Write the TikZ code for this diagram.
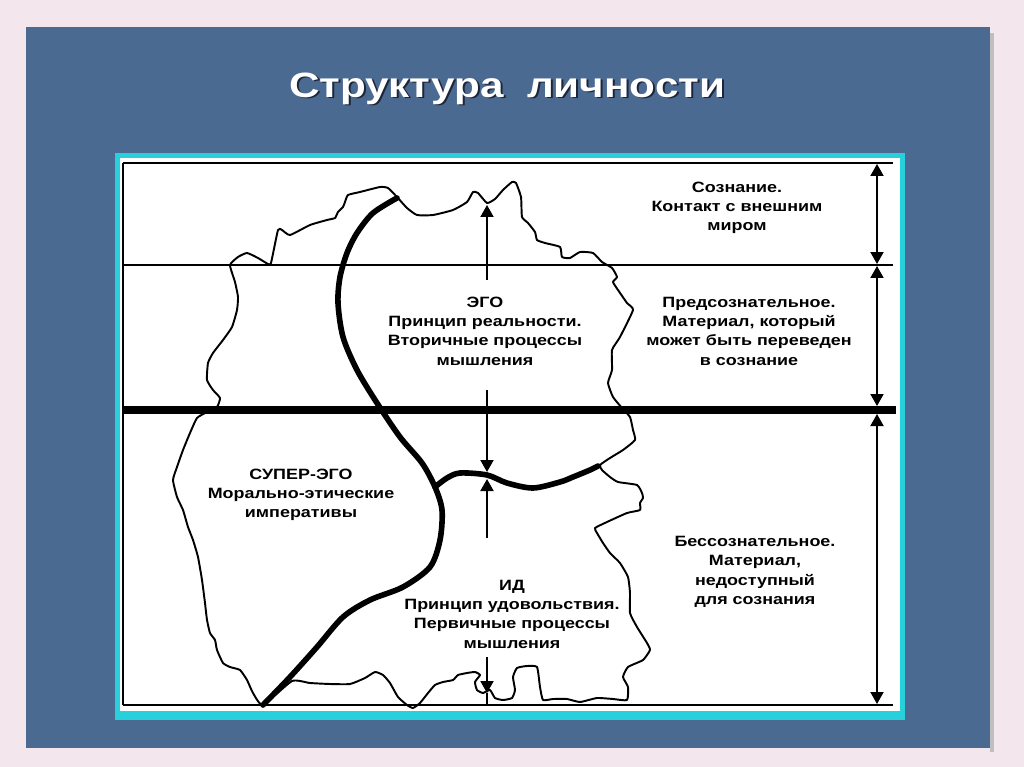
\documentclass[tikz,border=0pt]{standalone}
\usepackage{fontspec}
\setmainfont{Liberation Sans}
\newfontfamily\titlefont[FakeStretch=1.2]{Liberation Sans}
\newfontfamily\zonefont[FakeStretch=1.2]{Liberation Sans}
\usetikzlibrary{arrows.meta}
\definecolor{pagepink}{RGB}{243,230,237}
\definecolor{slideblue}{RGB}{74,106,146}
\definecolor{framecyan}{RGB}{40,208,220}
\definecolor{titleshade}{RGB}{28,38,58}
\tikzstyle{outline}=[line width=1.1pt, line join=round]
\tikzstyle{boundary}=[line width=3.2pt, line cap=round]
\tikzstyle{level}=[line width=0.85pt]
\tikzstyle{thicklevel}=[line width=4pt]
\tikzstyle{pointer}=[line width=1.1pt, -{Triangle[width=2.6mm,length=2.4mm]}]
\tikzstyle{span}=[line width=1.1pt, {Triangle[width=2.6mm,length=2.4mm]}-{Triangle[width=2.6mm,length=2.4mm]}]
\tikzstyle{zonetext}=[align=center, inner sep=0pt, font=\zonefont\bfseries\fontsize{8.5}{11}\selectfont]

\begin{document}
\begin{tikzpicture}[x=0.02cm, y=-0.02cm]
            \useasboundingbox (0,0) rectangle (1024,767);
            \fill[pagepink] (0,0) rectangle (1024,767);
            \fill[black!25] (990,33) rectangle (994,752);
            \fill[slideblue] (26,27) rectangle (990,748);

            \node[anchor=base, text=titleshade, font=\titlefont\bfseries\fontsize{20}{24}\selectfont]
                (titleshadow) at (509,99) {Структура\ \ личности};
            \node[anchor=base, text=white, font=\titlefont\bfseries\fontsize{20}{24}\selectfont]
                (title) at (507,97) {Структура\ \ личности};

            \fill[framecyan] (115,153) rectangle (905,720);
            \fill[white] (120,158) rectangle (900,711);

            \draw[level] (123,163) -- (893,163);
            \draw[level] (123,265) -- (893,265);
            \draw[thicklevel] (123,410) -- (896,410);
            \draw[level] (123,705) -- (893,705);
            \draw[level] (123,163) -- (123,705);

            \draw[span] (877,164) -- (877,264);
            \draw[span] (877,266) -- (877,406);
            \draw[span] (877,414) -- (877,704);

            \draw[outline] plot[smooth cycle, tension=0.3] coordinates {
                (263,705) (253,693) (247,680) (240,670) (230,667) (223,663) (217,650)
                (215,640) (210,633) (207,620) (205,603) (202,580) (198,557) (193,540)
                (188,527) (183,510) (177,497) (173,480) (177,467) (183,450) (190,433)
                (197,418) (207,412) (217,407) (220,398) (213,390) (207,380) (208,363)
                (213,353) (223,340) (232,327) (237,310) (238,297) (235,282) (230,265)
                (238,257) (247,253) (258,258) (268,264) (271,263) (278,230) (282,230)
                (290,235) (310,225) (327,220) (335,218) (338,212) (343,207) (345,202)
                (348,195) (360,192) (380,187) (388,188) (397,197) (407,208) (417,215)
                (433,215) (453,210) (467,202) (473,192) (478,193) (487,203) (495,199)
                (503,190) (512,182) (516,183) (521,197) (522,217) (528,223) (535,232)
                (537,240) (545,243) (560,247) (562,257) (570,258) (580,252) (593,253)
                (602,262) (612,268) (617,277) (613,282) (618,290) (627,303) (633,310)
                (620,337) (612,350) (612,370) (608,383) (613,397) (622,408) (630,417)
                (633,430) (635,440) (623,450) (610,458) (600,465) (602,470) (610,477)
                (618,482) (637,485) (642,493) (643,498) (640,503) (640,510) (627,513)
                (607,522) (595,528) (597,533) (603,543) (610,553) (620,563) (628,577)
                (630,593) (630,613) (637,627) (647,643) (650,650) (643,660) (628,667)
                (623,677) (628,687) (627,700) (613,699) (597,698) (580,702) (567,699)
                (553,699) (543,700) (540,687) (537,667) (527,666) (517,668) (513,677)
                (515,690) (512,698) (503,700) (495,698) (490,690) (483,693) (477,690)
                (475,682) (480,675) (475,672) (467,673) (458,675) (453,680) (443,682)
                (435,685) (428,693) (420,703) (413,708) (407,705) (398,697) (390,683)
                (383,675) (375,672) (365,678) (350,684) (330,684) (310,683) (292,681)};

            \draw[boundary] plot[smooth, tension=0.5] coordinates {
                (397,198) (373,213) (357,233) (347,253) (340,277) (338,303) (343,337)
                (357,370) (377,403) (400,437) (422,463) (435,487) (442,510) (440,540)
                (430,567) (403,587) (370,600) (343,617) (317,647) (290,677) (263,705)};
            \draw[boundary] plot[smooth, tension=0.5] coordinates {
                (435,487) (447,478) (460,473) (487,475) (507,483) (533,488) (560,482)
                (573,477) (590,470) (598,466)};

            \coordinate (egoup) at (487,280);
            \coordinate (egotip) at (487,205);
            \coordinate (egodown) at (487,390);
            \coordinate (egolow) at (487,472);
            \coordinate (idup) at (487,538);
            \coordinate (idtop) at (487,479);
            \coordinate (iddown) at (487,657);
            \coordinate (idtip) at (487,693);
            \coordinate (idfoot) at (487,705);
            \draw[pointer] (egoup) -- (egotip);
            \draw[pointer] (egodown) -- (egolow);
            \draw[pointer] (idup) -- (idtop);
            \draw[pointer] (iddown) -- (idtip);
            \draw[line width=1.1pt] (idtip) -- (idfoot);

            \node[zonetext] (conscious) at (737,208)
                {Сознание.\\Контакт с внешним\\миром};
            \node[zonetext] (preconscious) at (749,331)
                {Предсознательное.\\Материал, который\\может быть переведен\\в сознание};
            \node[zonetext] (unconscious) at (755,572)
                {Бессознательное.\\Материал,\\недоступный\\для сознания};
            \node[zonetext] (ego) at (485,331)
                {ЭГО\\Принцип реальности.\\Вторичные процессы\\мышления};
            \node[zonetext] (superego) at (301,495)
                {СУПЕР-ЭГО\\Морально-этические\\императивы};
            \node[zonetext] (id) at (512,614)
                {ИД\\Принцип удовольствия.\\Первичные процессы\\мышления};
        \end{tikzpicture}
\end{document}
